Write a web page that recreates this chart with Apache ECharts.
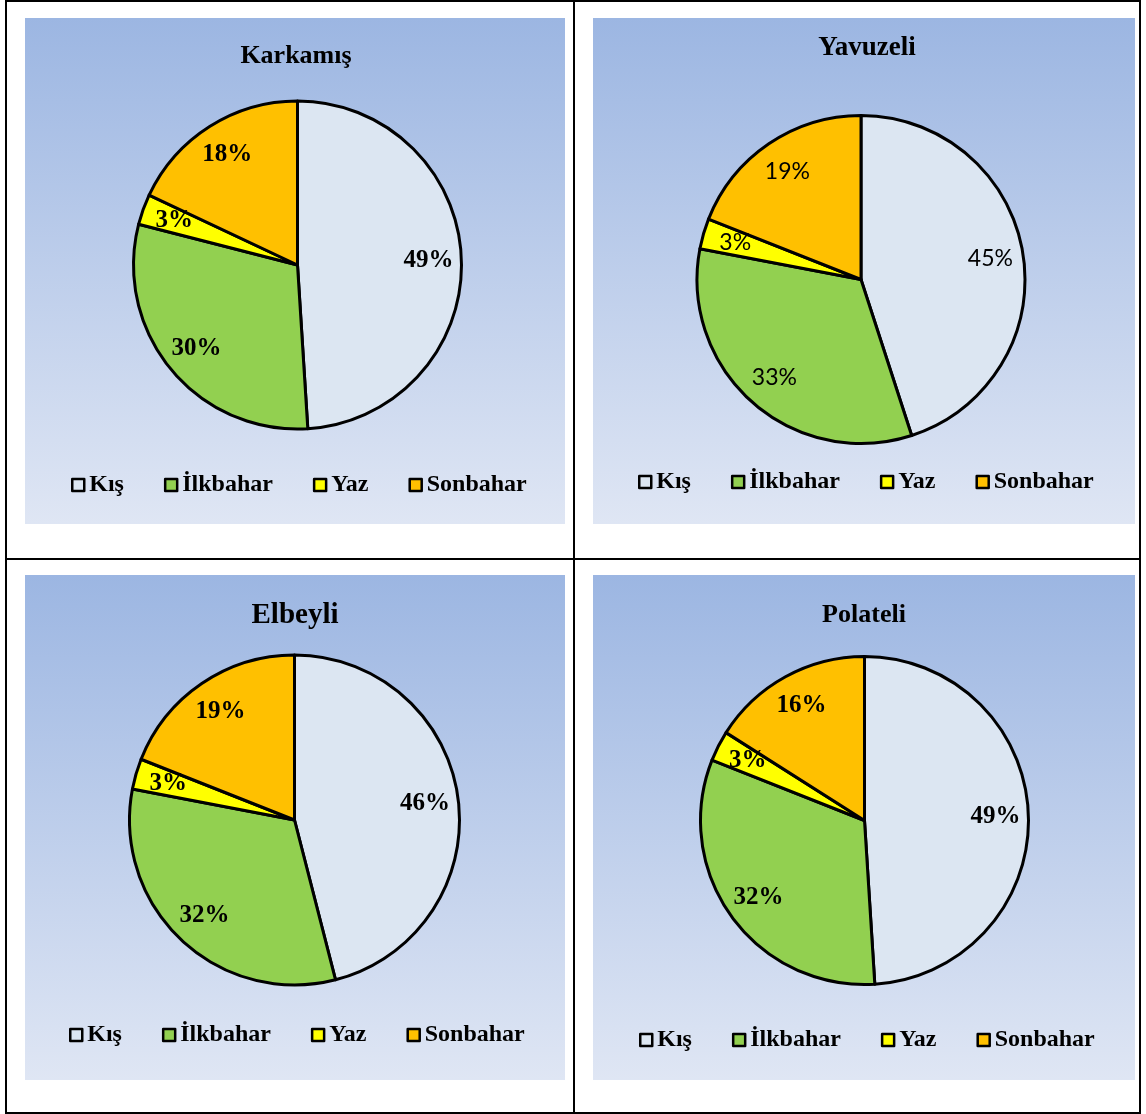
<!DOCTYPE html>
<html>
<head>
<meta charset="utf-8">
<script src="https://cdn.jsdelivr.net/npm/echarts@6/dist/echarts.min.js"></script>
<style>
  html, body { margin: 0; padding: 0; background: #ffffff; }
  body { width: 1146px; height: 1114px; position: relative; overflow: hidden; }
  .line { position: absolute; background: #000; }
  .frame { position: absolute; border: 2px solid #000; box-sizing: border-box; }
  .panel {
    position: absolute;
    background: linear-gradient(to bottom, #9cb6e2 0%, #dfe6f4 100%);
  }
</style>
</head>
<body>
<div class="frame" style="left:5px;top:0;width:1136px;height:1114px;"></div>
<div class="line" style="left:573px;top:0;width:2px;height:1114px;"></div>
<div class="line" style="left:5px;top:558px;width:1136px;height:2px;"></div>

<div id="c1" class="panel" style="left:25px;top:18px;width:540px;height:506px;"></div>
<div id="c2" class="panel" style="left:593px;top:18px;width:542px;height:506px;"></div>
<div id="c3" class="panel" style="left:25px;top:575px;width:540px;height:505px;"></div>
<div id="c4" class="panel" style="left:593px;top:575px;width:542px;height:505px;"></div>

<script>
// Seasons (legend order) and slice colours
const seasons = ['Kış', 'İlkbahar', 'Yaz', 'Sonbahar'];
const seasonColors = ['#dce6f2', '#92d050', '#ffff00', '#ffc000'];

// Share of each season (%) per district
const karkamis = [49, 30, 3, 18];
const yavuzeli = [45, 33, 3, 19];
const elbeyli  = [46, 32, 3, 19];
const polateli = [49, 32, 3, 16];

const SERIF = '"Liberation Serif", "Times New Roman", serif';

function buildPie(el, title, values, opts) {
  const chart = echarts.init(document.getElementById(el), null, { renderer: 'canvas' });
  const data = seasons.map((name, i) => ({
    name: name,
    value: values[i],
    itemStyle: { color: seasonColors[i] }
  }));
  const r = opts.radius;
  chart.setOption({
    backgroundColor: 'transparent',
    animation: false,
    graphic: [{
      type: 'text',
      x: opts.titleX,
      y: opts.titleY,
      style: {
        text: title,
        fill: '#000',
        font: 'bold ' + opts.titleSize + 'px ' + SERIF,
        textAlign: 'center',
        textVerticalAlign: 'middle'
      }
    }],
    legend: {
      data: seasons,
      orient: 'horizontal',
      left: opts.legendLeft,
      top: opts.legendTop,
      icon: 'rect',
      itemWidth: 12,
      itemHeight: 12,
      itemGap: 40,
      padding: 0,
      selectedMode: false,
      itemStyle: { borderColor: '#000', borderWidth: 2.5 },
      textStyle: {
        color: '#000',
        fontFamily: SERIF,
        fontWeight: 'bold',
        fontSize: 24,
        padding: [0, 0, 0, 0]
      }
    },
    series: [
      {
        type: 'pie',
        center: [opts.cx, opts.cy],
        radius: [0, r],
        startAngle: 90,
        clockwise: true,
        silent: true,
        data: data,
        itemStyle: { borderColor: '#000', borderWidth: 3 },
        label: { show: false },
        labelLine: { show: false }
      },
      {
        // ring that only carries the percentage labels
        type: 'pie',
        center: [opts.cx, opts.cy],
        radius: [Math.round(r * 0.56), r],
        startAngle: 90,
        clockwise: true,
        silent: true,
        data: data.map(d => ({ name: d.name, value: d.value })),
        itemStyle: { color: 'rgba(0,0,0,0)', borderWidth: 0 },
        label: {
          show: true,
          position: 'inside',
          formatter: p => p.value + '%',
          color: '#000',
          fontFamily: opts.labelFont,
          fontWeight: opts.labelWeight,
          fontSize: opts.labelSize
        },
        labelLine: { show: false }
      }
    ]
  });
  return chart;
}

buildPie('c1', 'Karkamış', karkamis, {
  cx: 272.5, cy: 247, radius: 164,
  titleX: 271, titleY: 38, titleSize: 26,
  legendLeft: 46, legendTop: 455,
  labelFont: SERIF, labelWeight: 'bold', labelSize: 25
});
buildPie('c2', 'Yavuzeli', yavuzeli, {
  cx: 268, cy: 261.5, radius: 164,
  titleX: 274, titleY: 30, titleSize: 27,
  legendLeft: 45, legendTop: 452,
  labelFont: 'Lato, "Open Sans", sans-serif', labelWeight: 'normal', labelSize: 23
});
buildPie('c3', 'Elbeyli', elbeyli, {
  cx: 269.5, cy: 245, radius: 165,
  titleX: 270, titleY: 41, titleSize: 29,
  legendLeft: 44, legendTop: 448,
  labelFont: SERIF, labelWeight: 'bold', labelSize: 25
});
buildPie('c4', 'Polateli', polateli, {
  cx: 271.5, cy: 245.5, radius: 164,
  titleX: 271, titleY: 40, titleSize: 26,
  legendLeft: 46, legendTop: 453,
  labelFont: SERIF, labelWeight: 'bold', labelSize: 25
});
</script>
</body>
</html>
